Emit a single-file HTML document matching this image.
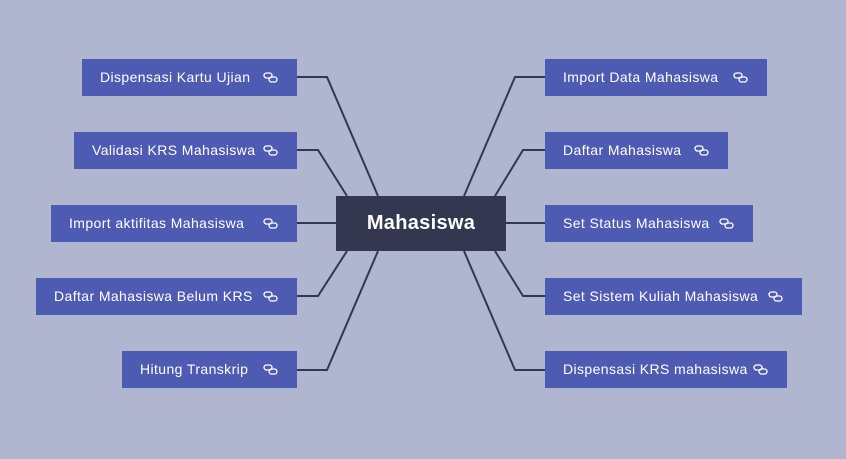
<!DOCTYPE html>
<html><head><style>
body{margin:0;width:846px;height:459px;background:#b0b5d0;position:relative;overflow:hidden;font-family:"Liberation Sans",sans-serif}
.n{position:absolute;height:37px;background:#4e5bb2;color:#fff;font-size:14px;letter-spacing:0.4px;line-height:37px;padding-left:18px;box-sizing:border-box;white-space:nowrap}
.n svg{position:absolute;right:19px;top:13px}
.c{position:absolute;left:336px;top:196px;width:170px;height:55px;background:#333850;color:#fff;font-weight:bold;font-size:20px;line-height:55px;text-align:center;letter-spacing:0.3px}
</style></head><body>
<svg width="846" height="459" style="position:absolute;left:0;top:0" fill="none" stroke="#333850" stroke-width="2">
<polyline points="297,77 327,77 378,196"/>
<polyline points="297,150 318,150 347,196"/>
<polyline points="297,223 336,223"/>
<polyline points="297,296 318,296 347,251"/>
<polyline points="297,370 327,370 378,251"/>
<polyline points="545,77 515,77 464,196"/>
<polyline points="545,150 523,150 495,196"/>
<polyline points="545,223 506,223"/>
<polyline points="545,296 523,296 495,251"/>
<polyline points="545,370 515,370 464,251"/>
</svg>
<div class="c">Mahasiswa</div>
<div class="n" style="left:82px;top:59px;width:215px">Dispensasi Kartu Ujian<svg width="15" height="11"><g fill="none" stroke="#fff" stroke-width="1.3"><rect x="1" y="1" width="8" height="5" rx="2.5"/><rect x="6" y="5" width="8" height="5" rx="2.5"/></g></svg></div>
<div class="n" style="left:74px;top:132px;width:223px">Validasi KRS Mahasiswa<svg width="15" height="11"><g fill="none" stroke="#fff" stroke-width="1.3"><rect x="1" y="1" width="8" height="5" rx="2.5"/><rect x="6" y="5" width="8" height="5" rx="2.5"/></g></svg></div>
<div class="n" style="left:51px;top:205px;width:246px">Import aktifitas Mahasiswa<svg width="15" height="11"><g fill="none" stroke="#fff" stroke-width="1.3"><rect x="1" y="1" width="8" height="5" rx="2.5"/><rect x="6" y="5" width="8" height="5" rx="2.5"/></g></svg></div>
<div class="n" style="left:36px;top:278px;width:261px">Daftar Mahasiswa Belum KRS<svg width="15" height="11"><g fill="none" stroke="#fff" stroke-width="1.3"><rect x="1" y="1" width="8" height="5" rx="2.5"/><rect x="6" y="5" width="8" height="5" rx="2.5"/></g></svg></div>
<div class="n" style="left:122px;top:351px;width:175px">Hitung Transkrip<svg width="15" height="11"><g fill="none" stroke="#fff" stroke-width="1.3"><rect x="1" y="1" width="8" height="5" rx="2.5"/><rect x="6" y="5" width="8" height="5" rx="2.5"/></g></svg></div>
<div class="n" style="left:545px;top:59px;width:222px">Import Data Mahasiswa<svg width="15" height="11"><g fill="none" stroke="#fff" stroke-width="1.3"><rect x="1" y="1" width="8" height="5" rx="2.5"/><rect x="6" y="5" width="8" height="5" rx="2.5"/></g></svg></div>
<div class="n" style="left:545px;top:132px;width:183px">Daftar Mahasiswa<svg width="15" height="11"><g fill="none" stroke="#fff" stroke-width="1.3"><rect x="1" y="1" width="8" height="5" rx="2.5"/><rect x="6" y="5" width="8" height="5" rx="2.5"/></g></svg></div>
<div class="n" style="left:545px;top:205px;width:208px">Set Status Mahasiswa<svg width="15" height="11"><g fill="none" stroke="#fff" stroke-width="1.3"><rect x="1" y="1" width="8" height="5" rx="2.5"/><rect x="6" y="5" width="8" height="5" rx="2.5"/></g></svg></div>
<div class="n" style="left:545px;top:278px;width:257px">Set Sistem Kuliah Mahasiswa<svg width="15" height="11"><g fill="none" stroke="#fff" stroke-width="1.3"><rect x="1" y="1" width="8" height="5" rx="2.5"/><rect x="6" y="5" width="8" height="5" rx="2.5"/></g></svg></div>
<div class="n" style="left:545px;top:351px;width:242px">Dispensasi KRS mahasiswa<svg width="15" height="11"><g fill="none" stroke="#fff" stroke-width="1.3"><rect x="1" y="1" width="8" height="5" rx="2.5"/><rect x="6" y="5" width="8" height="5" rx="2.5"/></g></svg></div>
</body></html>
